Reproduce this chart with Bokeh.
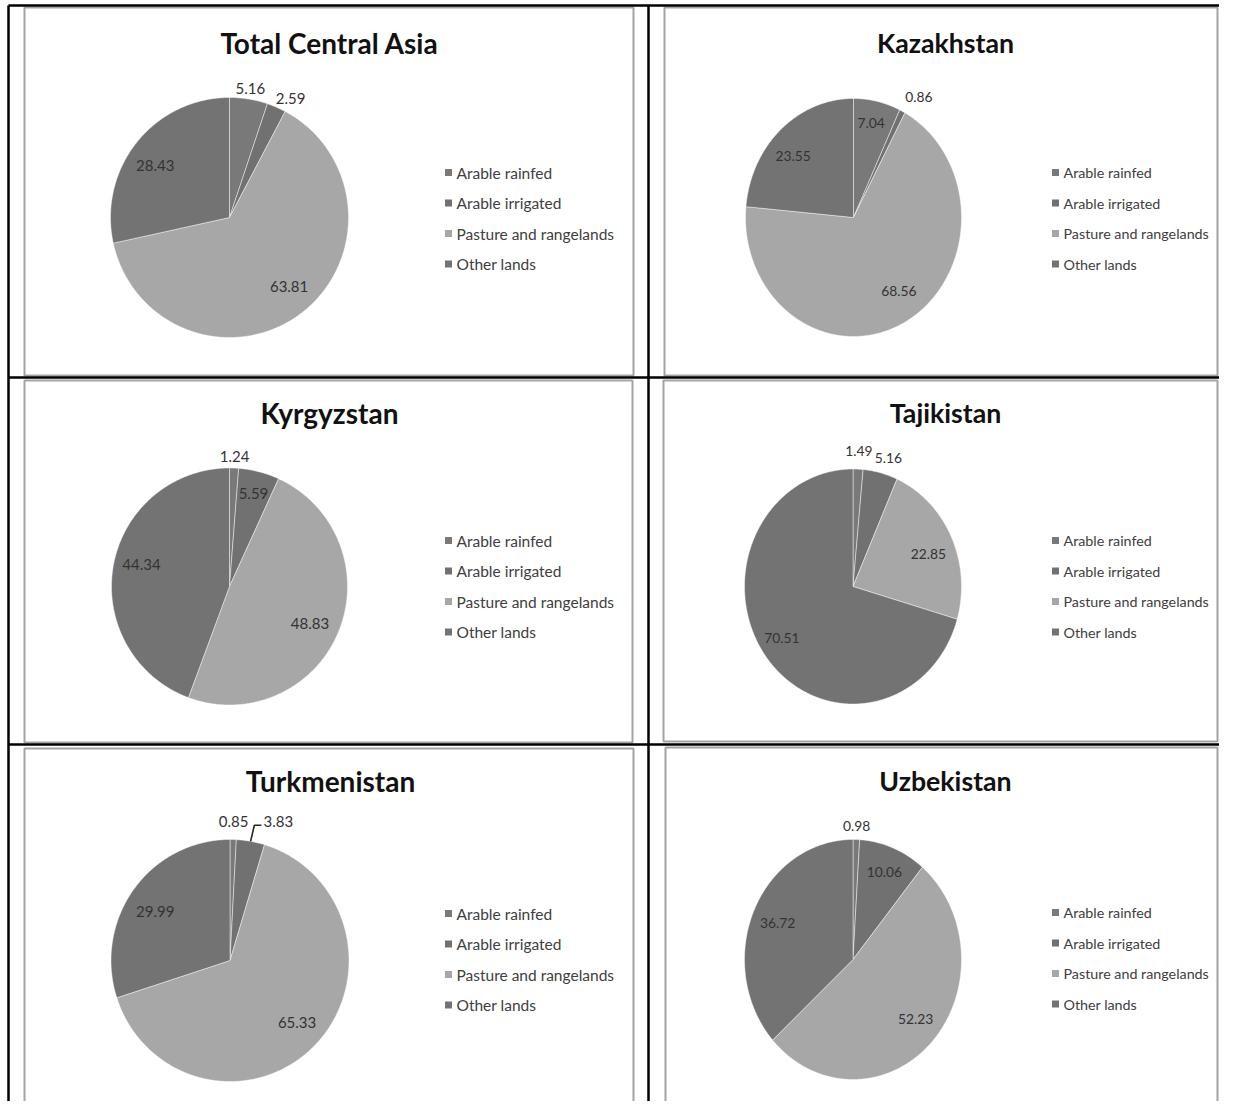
import numpy as np
from bokeh.plotting import figure
from bokeh.models import Range1d, ColumnDataSource
from bokeh.core.properties import value
from bokeh.embed import file_html
from bokeh.resources import INLINE

# ---------------- data ----------------
REGIONS = ["Total Central Asia", "Kazakhstan", "Kyrgyzstan",
           "Tajikistan", "Turkmenistan", "Uzbekistan"]
CATEGORIES = ["Arable rainfed", "Arable irrigated",
              "Pasture and rangelands", "Other lands"]
arable_rainfed = [5.16, 7.04, 1.24, 1.49, 0.85, 0.98]
arable_irrigated = [2.59, 0.86, 5.59, 5.16, 3.83, 10.06]
pasture_rangelands = [63.81, 68.56, 48.83, 22.85, 65.33, 52.23]
other_lands = [28.43, 23.55, 44.34, 70.51, 29.99, 36.72]

# ---------------- styles / layout ----------------
COLORS = ["#797979", "#717171", "#a7a7a7", "#737373"]
FONT = value("Lato")

# pie centre / radii, title position, legend position, font scale (page pixels)
PANELS = [
    dict(cx=229.0, cy=217.0, rx=119.0, ry=120.0, tx=329, ty=42, lx=448, ly=172, fs=1.0),
    dict(cx=853.0, cy=217.0, rx=108.0, ry=119.0, tx=945, ty=42, lx=1055, ly=172, fs=0.92),
    dict(cx=229.0, cy=586.0, rx=118.0, ry=118.5, tx=329, ty=412, lx=448, ly=540, fs=1.0),
    dict(cx=852.5, cy=586.0, rx=108.5, ry=117.5, tx=945, ty=412, lx=1055, ly=540, fs=0.92),
    dict(cx=229.5, cy=960.0, rx=119.0, ry=121.0, tx=330, ty=780, lx=448, ly=913, fs=1.0),
    dict(cx=852.5, cy=959.0, rx=108.5, ry=120.0, tx=945, ty=780, lx=1055, ly=912, fs=0.92),
]
LEGEND_STEP = 30.5
# (radius factor, angular nudge in degrees, leader line) for each label
LABEL_STYLE = [
    [(1.09, 0, False), (1.12, 4, False), (0.76, -4, False), (0.76, -4, False)],
    [(0.81, -1, False), (1.18, 4, False), (0.75, -6, False), (0.76, -5, False)],
    [(1.10, 0, False), (0.81, 0, False), (0.75, 2, False), (0.77, 4, False)],
    [(1.155, 0, False), (1.14, 2, False), (0.75, 3, False), (0.79, 3, False)],
    [(1.15, 0, False), (1.22, 9.5, True), (0.764, -2, False), (0.75, -3, False)],
    [(1.11, 0, False), (0.785, 0, False), (0.763, -3, False), (0.76, 0, False)],
]
# chart frames (left, right, top, bottom)
FRAMES = [(24, 633, 7, 375), (664, 1217, 7, 375),
          (24, 632, 380, 742), (663, 1217, 380, 741),
          (24, 633, 748, 1125), (665, 1217, 747, 1125)]

W, H = 1219, 1101
p = figure(width=W, height=H,
           x_range=Range1d(0, W), y_range=Range1d(H, 0),
           x_axis_location=None, y_axis_location=None,
           output_backend="svg", toolbar_location=None, min_border=0)
p.grid.visible = False
p.outline_line_color = None
p.background_fill_color = "white"
p.border_fill_color = "white"

# chart frames
fl, fr, ft, fb = zip(*FRAMES)
p.quad(left=list(fl), right=list(fr), top=list(ft), bottom=list(fb),
       fill_color=None, line_color="#a3a3a3", line_width=2)

# table lines
p.segment(x0=[8, 8, 8], y0=[5, 377, 744], x1=[W, W, W], y1=[5, 377, 744],
          line_color="black", line_width=2.5)
p.segment(x0=[8, 648], y0=[5, 5], x1=[8, 648], y1=[H, H],
          line_color="black", line_width=2.5)

series = [arable_rainfed, arable_irrigated, pasture_rangelands, other_lands]

for i, region in enumerate(REGIONS):
    pan = PANELS[i]
    cx, cy, rx, ry, fs = pan["cx"], pan["cy"], pan["rx"], pan["ry"], pan["fs"]
    vals = np.array([s[i] for s in series])
    fr_ = vals / vals.sum()
    ends = np.cumsum(fr_)
    starts = ends - fr_
    xs, ys = [], []
    for a0, a1 in zip(starts, ends):
        t = np.linspace(a0, a1, max(3, int((a1 - a0) * 720))) * 2 * np.pi
        xs.append([cx] + list(cx + rx * np.sin(t)) + [cx])
        ys.append([cy] + list(cy - ry * np.cos(t)) + [cy])
    src = ColumnDataSource(dict(xs=xs, ys=ys, color=COLORS,
                                cat=CATEGORIES, val=list(vals)))
    p.patches("xs", "ys", source=src, fill_color="color",
              line_color="white", line_alpha=0.45, line_width=1)

    # data labels
    lxs, lys, txt = [], [], []
    for k, (a0, a1) in enumerate(zip(starts, ends)):
        rf, nudge, leader = LABEL_STYLE[i][k]
        mid = (a0 + a1) / 2 * 2 * np.pi + np.deg2rad(nudge)
        x = cx + rf * rx * np.sin(mid)
        y = cy - rf * ry * np.cos(mid)
        lxs.append(x)
        lys.append(y)
        txt.append(f"{vals[k]:.2f}")
        if leader:
            m0 = (a0 + a1) / 2 * 2 * np.pi
            sx = cx + rx * np.sin(m0)
            sy = cy - ry * np.cos(m0)
            p.line(x=[sx, x - 24, x - 17], y=[sy, y + 4, y + 4],
                   line_color="#262626", line_width=1.6)
    p.text(x=lxs, y=lys, text=txt, text_font=FONT,
           text_font_size=f"{15 * fs:.1f}px",
           text_color="#333333", text_align="center", text_baseline="middle")

    # title
    p.text(x=[pan["tx"]], y=[pan["ty"]], text=[region], text_font=FONT,
           text_font_size=f"{28 * (1 - (1 - fs) * 0.6):.1f}px",
           text_font_style="bold", text_color="#111111",
           text_align="center", text_baseline="middle")

    # legend
    legy = [pan["ly"] + k * LEGEND_STEP for k in range(len(CATEGORIES))]
    p.scatter(x=[pan["lx"]] * 4, y=legy, marker="square", size=7,
              fill_color=COLORS, line_color=None)
    p.text(x=[pan["lx"] + 8] * 4, y=legy, text=CATEGORIES, text_font=FONT,
           text_font_size=f"{15.5 * fs:.1f}px", text_color="#404040",
           text_align="left", text_baseline="middle")

open("out.html", "w").write(file_html(p, INLINE))
